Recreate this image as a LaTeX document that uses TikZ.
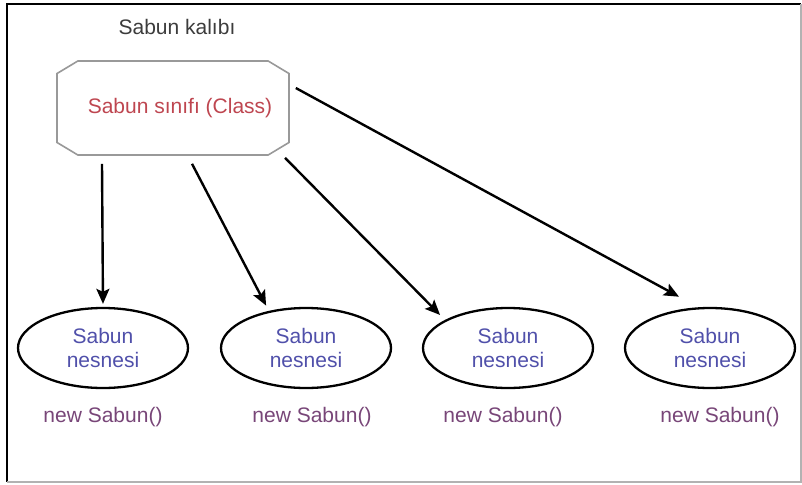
\documentclass[tikz,border=0pt]{standalone}
\usepackage{fontspec}
\setmainfont{Liberation Sans}
\usetikzlibrary{arrows.meta,shapes.geometric,shapes.misc}
\tikzset {>={Stealth[length=15pt,width=13pt,inset=3pt]}}
\definecolor{clsred}{RGB}{190,70,80}
\definecolor{objblue}{RGB}{80,80,170}
\definecolor{newpurple}{RGB}{120,70,120}
\definecolor{titlegray}{RGB}{60,60,60}
\tikzset{
  clsbox/.style={chamfered rectangle,chamfered rectangle angle=59,
    chamfered rectangle xsep=15pt,draw=gray!80,line width=1.6pt,
    minimum width=232pt,minimum height=94pt,inner sep=0pt,text=clsred},
  obj/.style={ellipse,draw,line width=2.3pt,minimum width=170pt,
    minimum height=80pt,inner sep=0pt,align=center,text=objblue},
  newlbl/.style={text=newpurple},
  arr/.style={->,line width=2.4pt}
}

\begin{document}
\begin{tikzpicture}[x=1pt,y=-1pt,font=\fontsize{21}{24}\selectfont]
\useasboundingbox (0,0) rectangle (802,484);
% frame
\draw[line width=2.5pt] (801,4) -- (7,4) -- (7,482);
\draw[line width=2pt,gray!60] (7,482) -- (801,482) -- (801,4);
% class
\node[text=titlegray] (title) at (177,27) {Sabun kalıbı};
\node[clsbox] (cls) at (173,108) {\raisebox{5pt}{\hspace{14pt}Sabun sınıfı (Class)}};
% objects
\node[obj] (o1) at (103,348) {Sabun\\nesnesi};
\node[obj] (o2) at (306,348) {Sabun\\nesnesi};
\node[obj] (o3) at (508,348) {Sabun\\nesnesi};
\node[obj] (o4) at (710,348) {Sabun\\nesnesi};
\node[newlbl] (n1) at (103,417) {new Sabun()};
\node[newlbl] (n2) at (312,417) {new Sabun()};
\node[newlbl] (n3) at (503,417) {new Sabun()};
\node[newlbl] (n4) at (720,417) {new Sabun()};
% arrows
\draw[arr,shorten >=3pt] ([xshift=-71pt,yshift=-8pt]cls.south) -- (o1.north);
\draw[arr,shorten >=6pt] ([xshift=19pt,yshift=-8pt]cls.south) -- (o2.135);
\draw[arr,shorten >=7pt] ([xshift=112pt,yshift=-2pt]cls.south) -- (o3.156);
\draw[arr,shorten >=22pt] ([xshift=6pt,yshift=20pt]cls.east) -- (o4.106);
\end{tikzpicture}
\end{document}
